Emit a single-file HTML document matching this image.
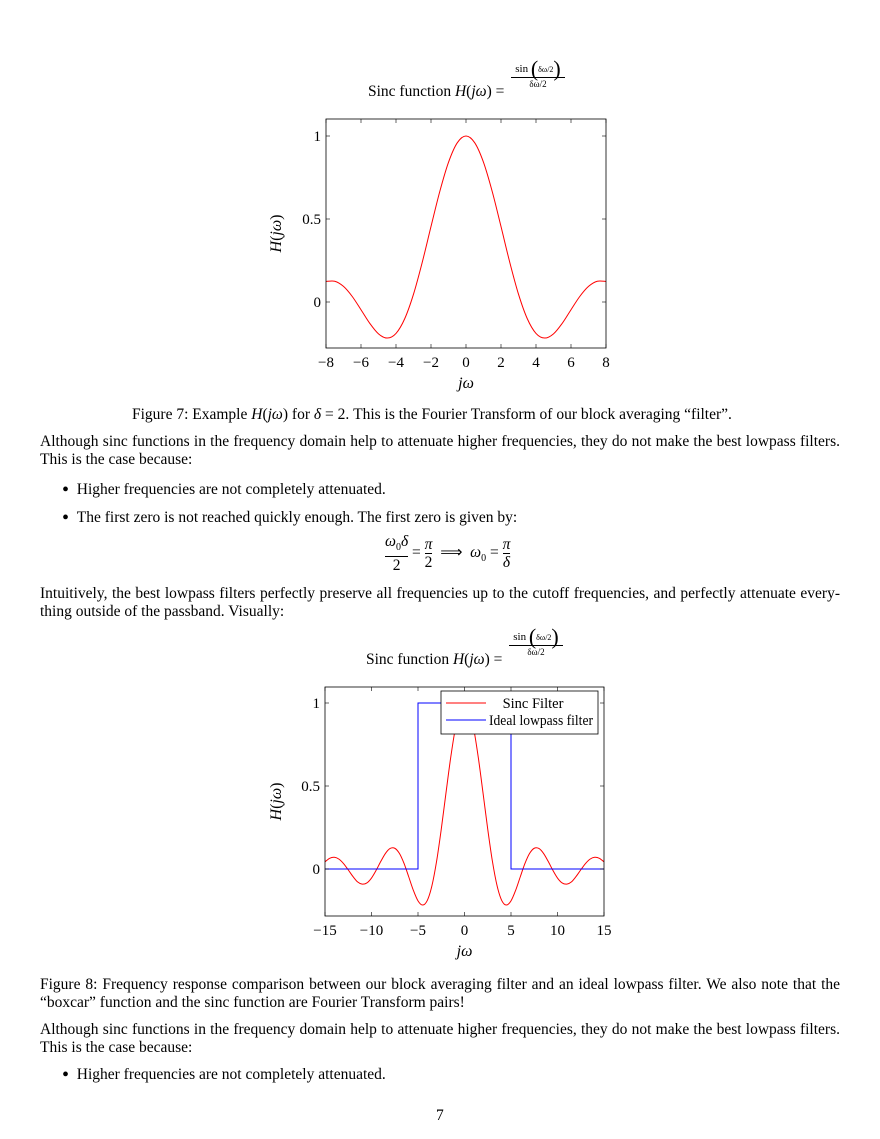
<!DOCTYPE html>
<html><head><meta charset="utf-8"><style>
body{margin:0;width:880px;height:1139px;background:#fff;position:relative;font-family:"Liberation Serif",serif;color:#000;overflow:hidden}
.t{position:absolute;font-size:15.5px;white-space:nowrap;line-height:18px}
.j{width:800px;text-align:justify;text-align-last:justify;white-space:normal}
i{font-style:italic}
.b{font-size:20px;vertical-align:-2px}
svg{position:absolute;left:0;top:0}
svg text{font-family:"Liberation Serif",serif}
</style></head><body>
<div class="t" style="left:368px;top:83px">Sinc function <i>H</i>(<i>jω</i>) =</div>
<div class="t" style="left:511px;top:62px;font-size:11px;text-align:center;width:54px;line-height:13px">sin <span style="font-size:22px;vertical-align:-4px">(</span><span style="font-size:8px">δω/2</span><span style="font-size:22px;vertical-align:-4px">)</span><div style="border-top:1px solid #000;font-size:9px;margin-top:1px">δω/2</div></div>

<svg id="c1" width="880" height="1139"></svg>

<div class="t" style="left:132px;top:406px">Figure 7: Example <i>H</i>(<i>jω</i>) for <i>δ</i> = 2. This is the Fourier Transform of our block averaging “filter”.</div>
<div class="t j" style="left:40px;top:433px">Although sinc functions in the frequency domain help to attenuate higher frequencies, they do not make the best lowpass filters.</div>
<div class="t" style="left:40px;top:451px">This is the case because:</div>
<div class="t" style="left:62px;top:481px"><span class="b">•</span>&nbsp;&nbsp;Higher frequencies are not completely attenuated.</div>
<div class="t" style="left:62px;top:509px"><span class="b">•</span>&nbsp;&nbsp;The first zero is not reached quickly enough. The first zero is given by:</div>
<div class="t" style="left:385px;top:533px;line-height:17px">
<span style="display:inline-block;text-align:center;vertical-align:middle"><i>ω</i><sub style="font-size:10px">0</sub><i>δ</i><br><span style="border-top:1px solid #000;display:block">2</span></span> = <span style="display:inline-block;text-align:center;vertical-align:middle"><i>π</i><br><span style="border-top:1px solid #000;display:block">2</span></span> &nbsp;⟹&nbsp; <i>ω</i><sub style="font-size:10px">0</sub> = <span style="display:inline-block;text-align:center;vertical-align:middle"><i>π</i><br><span style="border-top:1px solid #000;display:block"><i>δ</i></span></span></div>
<div class="t j" style="left:40px;top:585px">Intuitively, the best lowpass filters perfectly preserve all frequencies up to the cutoff frequencies, and perfectly attenuate every-</div>
<div class="t" style="left:40px;top:603px">thing outside of the passband. Visually:</div>

<div class="t" style="left:366px;top:651px">Sinc function <i>H</i>(<i>jω</i>) =</div>
<div class="t" style="left:509px;top:630px;font-size:11px;text-align:center;width:54px;line-height:13px">sin <span style="font-size:22px;vertical-align:-4px">(</span><span style="font-size:8px">δω/2</span><span style="font-size:22px;vertical-align:-4px">)</span><div style="border-top:1px solid #000;font-size:9px;margin-top:1px">δω/2</div></div>

<svg id="c2" width="880" height="1139"></svg>

<div class="t j" style="left:40px;top:976px">Figure 8: Frequency response comparison between our block averaging filter and an ideal lowpass filter. We also note that the</div>
<div class="t" style="left:40px;top:994px">“boxcar” function and the sinc function are Fourier Transform pairs!</div>
<div class="t j" style="left:40px;top:1021px">Although sinc functions in the frequency domain help to attenuate higher frequencies, they do not make the best lowpass filters.</div>
<div class="t" style="left:40px;top:1039px">This is the case because:</div>
<div class="t" style="left:62px;top:1066px"><span class="b">•</span>&nbsp;&nbsp;Higher frequencies are not completely attenuated.</div>
<div class="t" style="left:436px;top:1107px">7</div>

<script>
const halfVals=[1,0.9589,0.8415,0.6650,0.4546,0.2394,0.0470,-0.1002,-0.1892,-0.2172,-0.1918,-0.1283,-0.0466,0.0332,0.0939,0.1250,0.1237,0.0939,0.0458,-0.0078,-0.0544,-0.0840,-0.0909,-0.0774,-0.0447,-0.0053,0.0323,0.0596,0.0707,0.0645,0.0433];
const sincX=[];const sincY=[];
for(let i=-30;i<=30;i++){sincX.push(i*0.5);sincY.push(halfVals[Math.abs(i)]);}
const idealX=[-15,-5,-5,5,5,15];
const idealY=[0,0,1,1,0,0];
const xTicks1=[-8,-6,-4,-2,0,2,4,6,8];
const xTicks2=[-15,-10,-5,0,5,10,15];
const yTicks=[0,0.5,1];
const NS='http://www.w3.org/2000/svg';
function mk(p,tag,at){const e=document.createElementNS(NS,tag);for(const k in at)e.setAttribute(k,at[k]);p.appendChild(e);return e;}
function pathOf(pts,smooth){
  if(!smooth){return pts.map((p,i)=>(i?'L':'M')+p[0].toFixed(2)+' '+p[1].toFixed(2)).join('');}
  let d='M'+pts[0][0].toFixed(2)+' '+pts[0][1].toFixed(2);
  for(let i=0;i<pts.length-1;i++){
    const p0=pts[Math.max(0,i-1)],p1=pts[i],p2=pts[i+1],p3=pts[Math.min(pts.length-1,i+2)];
    const c1x=p1[0]+(p2[0]-p0[0])/6,c1y=p1[1]+(p2[1]-p0[1])/6;
    const c2x=p2[0]-(p3[0]-p1[0])/6,c2y=p2[1]-(p3[1]-p1[1])/6;
    d+='C'+c1x.toFixed(2)+' '+c1y.toFixed(2)+' '+c2x.toFixed(2)+' '+c2y.toFixed(2)+' '+p2[0].toFixed(2)+' '+p2[1].toFixed(2);
  }
  return d;
}
function chart(svg,L,R,T,B,xmin,xmax,y0px,xTicks,series){
  const sx=v=>L+(v-xmin)/(xmax-xmin)*(R-L);
  const sy=v=>y0px-v*166;
  const clip=mk(svg,'clipPath',{id:svg.id+'clip'});mk(clip,'rect',{x:L,y:T,width:R-L,height:B-T});
  series.forEach(s=>{
    const pts=[];s.x.forEach((x,i)=>{if(x<xmin||x>xmax)return;pts.push([sx(x),sy(s.y[i])]);});
    const p=mk(svg,'path',{d:pathOf(pts,s.smooth),fill:'none',stroke:s.c,'stroke-width':1,'clip-path':'url(#'+svg.id+'clip)'});
    
    
  });
  const fr=mk(svg,'rect',{x:L,y:T,width:R-L,height:B-T,fill:'none',stroke:'#000','stroke-width':0.8});
  
  
  xTicks.forEach(v=>{const x=sx(v);
    mk(svg,'line',{x1:x,x2:x,y1:B,y2:B-4,stroke:'#000','stroke-width':0.6});
    mk(svg,'line',{x1:x,x2:x,y1:T,y2:T+4,stroke:'#000','stroke-width':0.6});
    const t=mk(svg,'text',{x:x,y:B+19,'text-anchor':'middle','font-size':15});
    t.textContent=v<0?'−'+(-v):String(v);
    
    });
  yTicks.forEach(v=>{const y=sy(v);
    mk(svg,'line',{x1:L,x2:L+4,y1:y,y2:y,stroke:'#000','stroke-width':0.6});
    mk(svg,'line',{x1:R,x2:R-4,y1:y,y2:y,stroke:'#000','stroke-width':0.6});
    const t=mk(svg,'text',{x:L-5,y:y+5,'text-anchor':'end','font-size':15});
    t.textContent=String(v);
    
    });
  const xl=mk(svg,'text',{x:(L+R)/2,y:B+40,'text-anchor':'middle','font-size':16,'font-style':'italic'});
  xl.textContent='jω';
  
  
  const cy=(T+B)/2;
  const yl=mk(svg,'text',{x:281,y:cy,'text-anchor':'middle','font-size':16,transform:'rotate(-90 281 '+cy+')'});
  yl.innerHTML='<tspan font-style="italic">H</tspan>(<tspan font-style="italic">jω</tspan>)';
  
  
}
const c1=document.getElementById('c1');
chart(c1,326,606,119,348,-8,8,302,xTicks1,[{x:sincX,y:sincY,c:'#f00',name:'sinc-curve',smooth:true}]);
const c2=document.getElementById('c2');
chart(c2,325,604,687,916,-15,15,869,xTicks2,[{x:sincX,y:sincY,c:'#f00',name:'sinc-filter-curve',smooth:true},{x:idealX,y:idealY,c:'#00f',name:'ideal-lowpass-line',smooth:false}]);
const lg=mk(c2,'g',{});


mk(lg,'rect',{x:441,y:691,width:157,height:43,fill:'#fff',stroke:'#000','stroke-width':0.8});
mk(lg,'line',{x1:446,x2:486,y1:703,y2:703,stroke:'#f00'});
mk(lg,'line',{x1:446,x2:486,y1:720,y2:720,stroke:'#00f'});
const l1=mk(lg,'text',{x:533,y:708,'text-anchor':'middle','font-size':14.5});l1.textContent='Sinc Filter';


const l2=mk(lg,'text',{x:489,y:725,'font-size':14.5,textLength:104,lengthAdjust:'spacingAndGlyphs'});l2.textContent='Ideal lowpass filter';


</script>
</body></html>
